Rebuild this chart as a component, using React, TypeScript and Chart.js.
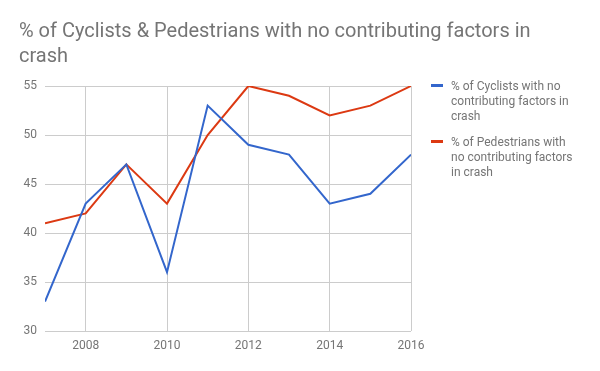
import React, { useEffect, useRef } from "react";
import { Chart, registerables } from "chart.js";

Chart.register(...registerables);

const years = [2007, 2008, 2009, 2010, 2011, 2012, 2013, 2014, 2015, 2016];
const cyclists = [33, 43, 47, 36, 53, 49, 48, 43, 44, 48];
const pedestrians = [41, 42, 47, 43, 50, 55, 54, 52, 53, 55];
const xTicks = [2008, 2010, 2012, 2014, 2016];
const titleLines = ["% of Cyclists & Pedestrians with no contributing factors in", "crash"];
const cyclistLegend = ["% of Cyclists with no", "contributing factors in", "crash"];
const pedestrianLegend = ["% of Pedestrians with", "no contributing factors", "in crash"];

const BLUE = "#3366cc";
const RED = "#dc3912";
const TEXT = "#757575";
const FONT = "Roboto, Arial, sans-serif";

const overlay = {
  id: "overlay",
  afterDraw(chart: any) {
    const ctx = chart.ctx;
    ctx.save();
    ctx.fillStyle = TEXT;
    ctx.textAlign = "left";
    ctx.textBaseline = "alphabetic";
    ctx.font = `20px ${FONT}`;
    titleLines.forEach((l, i) => ctx.fillText(l, 19, 37 + i * 25));
    const entries = [
      { color: BLUE, lines: cyclistLegend, y: 90 },
      { color: RED, lines: pedestrianLegend, y: 146 },
    ];
    ctx.font = `12px ${FONT}`;
    entries.forEach((e) => {
      ctx.fillStyle = e.color;
      ctx.fillRect(431, e.y - 6, 12, 3);
      ctx.fillStyle = TEXT;
      e.lines.forEach((l, i) => ctx.fillText(l, 451, e.y + i * 15));
    });
    ctx.restore();
  },
};

export default function App() {
  const ref = useRef<HTMLCanvasElement>(null);
  useEffect(() => {
    document.body.style.margin = "0";
    const chart = new Chart(ref.current!, {
      type: "line",
      data: {
        datasets: [
          {
            label: "% of Cyclists with no contributing factors in crash",
            data: years.map((y, i) => ({ x: y, y: cyclists[i] })),
            borderColor: BLUE,
            backgroundColor: BLUE,
            borderWidth: 2,
            pointRadius: 0,
            tension: 0,
          },
          {
            label: "% of Pedestrians with no contributing factors in crash",
            data: years.map((y, i) => ({ x: y, y: pedestrians[i] })),
            borderColor: RED,
            backgroundColor: RED,
            borderWidth: 2,
            pointRadius: 0,
            tension: 0,
          },
        ],
      },
      options: {
        animation: false,
        responsive: false,
        layout: { padding: { top: 86, right: 189, left: 0, bottom: 0 } },
        plugins: { legend: { display: false }, title: { display: false }, tooltip: { enabled: false } },
        scales: {
          x: {
            type: "linear",
            min: 2007,
            max: 2016,
            afterBuildTicks: (s: any) => {
              s.ticks = xTicks.map((v) => ({ value: v }));
            },
            afterFit: (s: any) => {
              s.height = 40;
            },
            border: { display: false },
            grid: { color: "#cccccc", drawTicks: false, lineWidth: 1 },
            ticks: {
              color: TEXT,
              font: { family: FONT, size: 12 },
              padding: 8,
              maxRotation: 0,
              callback: (v: any) => String(v),
            },
          },
          y: {
            min: 30,
            max: 55,
            afterFit: (s: any) => {
              s.width = 45;
            },
            border: { display: false },
            grid: { color: "#cccccc", drawTicks: false, lineWidth: 1 },
            ticks: {
              stepSize: 5,
              color: TEXT,
              font: { family: FONT, size: 12 },
              padding: 8,
            },
          },
        },
      },
      plugins: [overlay],
    });
    return () => chart.destroy();
  }, []);
  return <canvas ref={ref} width={600} height={371} style={{ display: "block" }} />;
}
